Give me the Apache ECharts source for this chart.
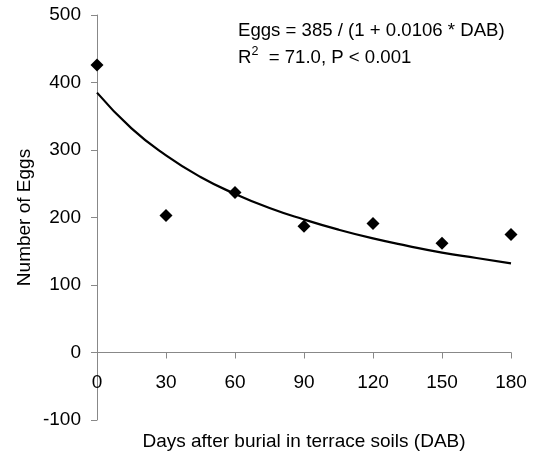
<!DOCTYPE html>
<html><head><meta charset="utf-8">
<script src="https://cdn.jsdelivr.net/npm/echarts@6/dist/echarts.min.js"></script>
<style>html,body{margin:0;padding:0;background:#fff}#c{width:535px;height:454px}</style>
</head><body><div id="c"></div>
<script>
const days = [0, 30, 60, 90, 120, 150, 180];
const eggs = [426, 203, 237, 187, 191, 162, 175];
const fitDays = [0, 15, 30, 45, 60, 75, 90, 105, 120, 135, 150, 165, 180];
const fitEggs = [385, 332, 292, 260, 235, 214, 197, 182, 169, 158, 148, 140, 132];
const xTicks = {min: 0, max: 180, interval: 30};
const yTicks = {min: -100, max: 500, interval: 100};
const ff = 'Liberation Sans, Arial, sans-serif';
const FS = 19;
const AFS = 18.6;
const gridTop = 15, gridBottom = 34, H = 454;
// pixel offset that places the x-axis line at y = 0
const zeroOffset = -((H - gridTop - gridBottom) * (0 - yTicks.min) / (yTicks.max - yTicks.min));
const chart = echarts.init(document.getElementById('c'));
chart.setOption({
  animation: false,
  grid: {left: 97, right: 24, top: gridTop, bottom: gridBottom, containLabel: false, outerBoundsMode: 'none'},
  xAxis: {type: 'value', min: xTicks.min, max: xTicks.max, interval: xTicks.interval,
    position: 'bottom', offset: zeroOffset,
    name: 'Days after burial in terrace soils (DAB)', nameLocation: 'middle', nameGap: 80,
    nameMoveOverlap: false,
    nameTextStyle: {fontFamily: ff, fontSize: FS, color: '#000'},
    axisLine: {onZero: false, lineStyle: {color: '#888', width: 1}},
    axisTick: {show: true, inside: false, length: 6, lineStyle: {color: '#888'}},
    axisLabel: {fontFamily: ff, fontSize: FS, color: '#000', margin: 21, hideOverlap: false},
    splitLine: {show: false}},
  yAxis: {type: 'value', min: yTicks.min, max: yTicks.max, interval: yTicks.interval,
    name: 'Number of Eggs', nameLocation: 'middle', nameGap: 63, nameRotate: 90,
    nameMoveOverlap: false,
    nameTextStyle: {fontFamily: ff, fontSize: FS, color: '#000'},
    axisLine: {show: true, onZero: false, lineStyle: {color: '#888', width: 1}},
    axisTick: {show: true, length: 6, lineStyle: {color: '#888'}},
    axisLabel: {fontFamily: ff, fontSize: FS, color: '#000', margin: 16},
    splitLine: {show: false}},
  graphic: [
    {type: 'text', left: 238, top: 21, style: {text: 'Eggs = 385 / (1 + 0.0106 * DAB)', fontFamily: ff, fontSize: AFS, fill: '#000'}},
    {type: 'text', left: 238, top: 45, style: {text: '{a|R}{s|2}{a|  = 71.0, P < 0.001}', fontFamily: ff, fontSize: AFS, fill: '#000',
      rich: {a: {fontFamily: ff, fontSize: AFS, color: '#000', verticalAlign: 'bottom', lineHeight: 22},
             s: {fontFamily: ff, fontSize: 12.5, color: '#000', verticalAlign: 'top', lineHeight: 22, padding: [0,0,10,0]}}}}
  ],
  series: [
    {type: 'line', data: fitDays.map((d, i) => [d, fitEggs[i]]), smooth: true, showSymbol: false,
     lineStyle: {color: '#000', width: 2.2}, z: 2},
    {type: 'scatter', data: days.map((d, i) => [d, eggs[i]]), symbol: 'diamond', symbolSize: 13,
     itemStyle: {color: '#000', opacity: 1}, z: 3}
  ]
});
</script></body></html>
